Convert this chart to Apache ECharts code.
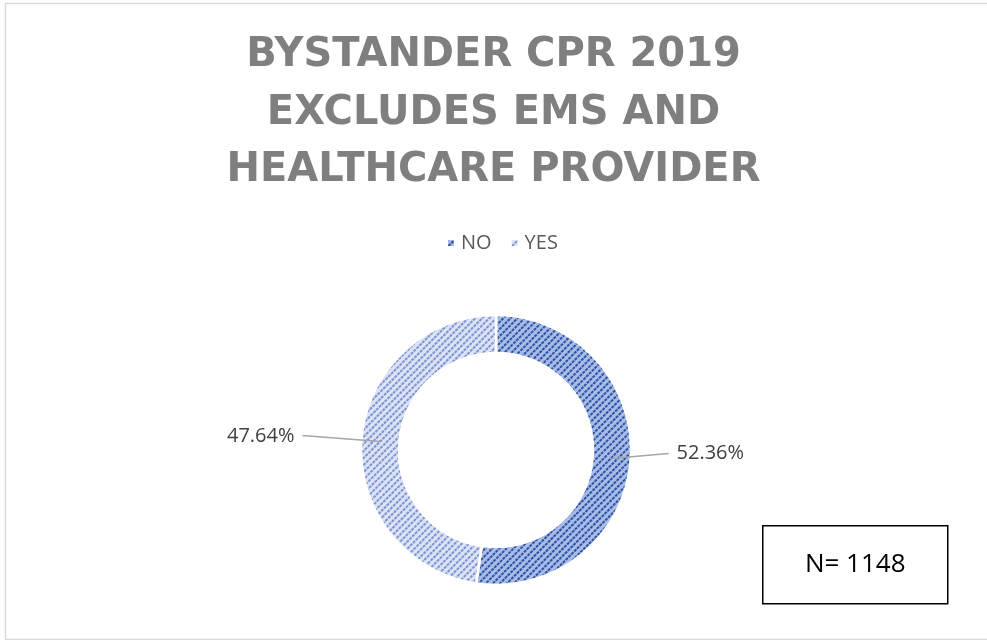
<!DOCTYPE html>
<html>
<head>
<meta charset="utf-8">
<script src="https://cdn.jsdelivr.net/npm/echarts@6/dist/echarts.min.js"></script>
<style>
  html, body { margin: 0; padding: 0; background: #fff; }
  #chart { width: 987px; height: 640px; }
</style>
</head>
<body>
<div id="chart"></div>
<script>
const titleLines = ['BYSTANDER CPR 2019', 'EXCLUDES EMS AND', 'HEALTHCARE PROVIDER'];
const categories = ['NO', 'YES'];
const percentages = [52.36, 47.64];
const sampleNote = 'N= 1148';

const fills = ['#a9bce6', '#dce3f4'];
const dots = ['#2b53a8', '#7d93d4'];
const leaderLengths = [54, 75];
const labelLift = [9, 0];

const chart = echarts.init(document.getElementById('chart'));

const ringData = categories.map((name, i) => ({
  name: name,
  value: percentages[i],
  itemStyle: {
    color: fills[i],
    decal: {
      symbol: 'rect',
      symbolSize: 1,
      dashArrayX: [[2.5, 1]],
      dashArrayY: [1.6, 3],
      rotation: -Math.PI / 4,
      color: dots[i],
      backgroundColor: fills[i]
    }
  }
}));

const labelData = categories.map((name, i) => ({
  name: name,
  value: percentages[i],
  labelLine: { length: leaderLengths[i], length2: 3 }
}));

chart.setOption({
  backgroundColor: '#ffffff',
  title: {
    text: titleLines.join('\n'),
    left: 'center',
    top: 27,
    padding: 0,
    textStyle: {
      fontFamily: 'DejaVu Sans',
      fontWeight: 'bold',
      fontSize: 40,
      lineHeight: 57.5,
      color: '#7f7f7f'
    }
  },
  legend: {
    data: categories,
    left: 441,
    top: 228,
    itemWidth: 8,
    itemHeight: 8,
    itemGap: 18,
    icon: 'rect',
    selectedMode: false,
    textStyle: {
      fontFamily: 'Open Sans',
      fontSize: 20,
      color: '#595959',
      padding: [0, 0, 0, 1]
    }
  },
  series: [
    {
      type: 'pie',
      name: 'ring',
      center: [496, 450],
      radius: [97, 135],
      startAngle: 90,
      clockwise: true,
      silent: true,
      label: { show: false },
      labelLine: { show: false },
      itemStyle: { borderColor: '#ffffff', borderWidth: 2.5 },
      data: ringData
    },
    {
      type: 'pie',
      name: 'labels',
      center: [496, 450],
      radius: [0, 116],
      startAngle: 90,
      clockwise: true,
      silent: true,
      z: 3,
      itemStyle: { color: 'rgba(0,0,0,0)' },
      label: {
        show: true,
        position: 'outside',
        formatter: p => p.value.toFixed(2) + '%',
        fontFamily: 'Open Sans',
        fontSize: 20,
        color: '#404040',
        distanceToLabelLine: 8
      },
      labelLine: {
        show: true,
        smooth: false,
        lineStyle: { color: '#a6a6a6', width: 1.5 }
      },
      labelLayout: function (params) {
        const lift = labelLift[params.dataIndex] || 0;
        const pts = params.labelLinePoints;
        if (!lift || !pts) return {};
        const last = pts[pts.length - 1];
        return {
          dy: -lift,
          labelLinePoints: [pts[0], [last[0], last[1] - lift]]
        };
      },
      data: labelData
    }
  ],
  graphic: [
    {
      type: 'rect',
      left: 3,
      top: 1,
      silent: true,
      shape: { width: 990, height: 636 },
      style: { fill: 'none', stroke: '#d9d9d9', lineWidth: 1.5 }
    },
    {
      type: 'group',
      left: 762,
      top: 525,
      children: [
        {
          type: 'rect',
          shape: { x: 0, y: 0, width: 185, height: 78 },
          style: { fill: '#ffffff', stroke: '#000000', lineWidth: 1.5 }
        },
        {
          type: 'text',
          x: 92.5,
          y: 39,
          style: {
            text: sampleNote,
            fontFamily: 'Open Sans',
            fontSize: 26,
            fill: '#000000',
            textAlign: 'center',
            textVerticalAlign: 'middle'
          }
        }
      ]
    }
  ]
});
</script>
</body>
</html>
